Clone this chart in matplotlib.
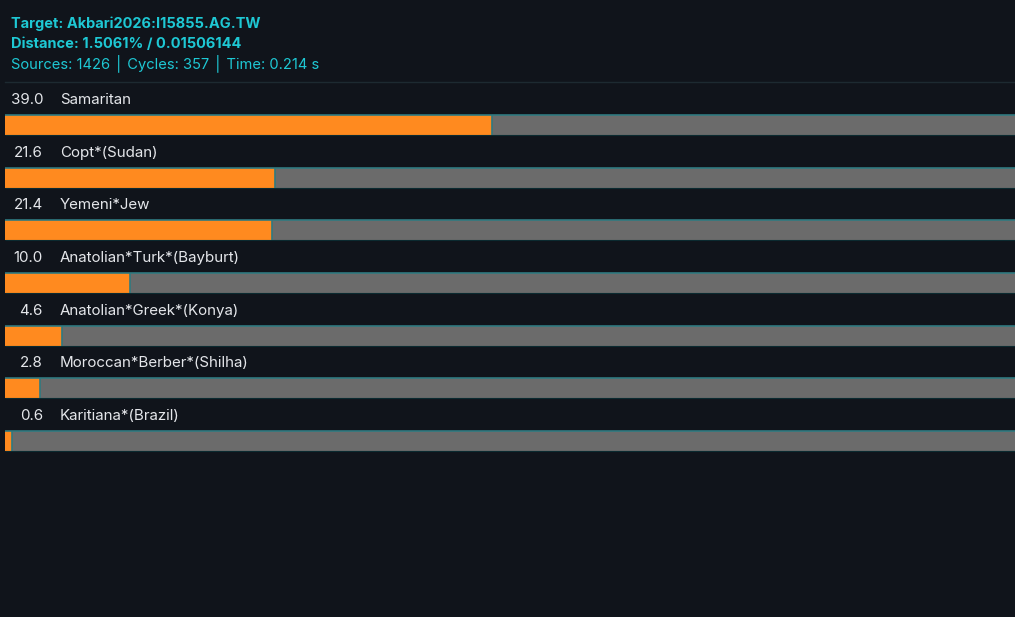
import matplotlib
matplotlib.use('Agg')
import matplotlib.pyplot as plt
import numpy as np

# データ
names = ['Samaritan', 'Copt*(Sudan)', 'Yemeni*Jew', 'Anatolian*Turk*(Bayburt)',
         'Anatolian*Greek*(Konya)', 'Moroccan*Berber*(Shilha)', 'Karitiana*(Brazil)']
values = [39.0, 21.6, 21.4, 10.0, 4.6, 2.8, 0.6]
header_target = 'Target: Akbari2026:I15855.AG.TW'
header_distance = 'Distance: 1.5061% / 0.01506144'
header_stats = 'Sources: 1426 │ Cycles: 357 │ Time: 0.214 s'

plt.rcParams['font.family'] = ['Inter', 'DejaVu Sans']

bg = '#10141b'
orange = '#ff8a1f'
grey = '#6b6b6b'
teal = '#2f7a80'
cyan = '#1ec8d4'

W, H = 1015, 617
fig = plt.figure(figsize=(W / 100, H / 100), dpi=100)
fig.patch.set_facecolor(bg)
ax = fig.add_axes([0, 0, 1, 1])
ax.set_facecolor(bg)

# 座標の設定 (100% = 約1248px, 先頭バーの中心 y=125px, 行間 52.67px)
px_per_pct = 12.49
x0 = 5
pitch = 52.67
y0 = 125
ax.set_xlim(-x0 / px_per_pct, (W - x0) / px_per_pct)
ax.set_ylim((H - y0) / pitch, -y0 / pitch)
ax.axis('off')

y = np.arange(len(names))
bar_h = 20 / pitch

# 背景バー
ax.barh(y, 100, height=bar_h, color=grey, edgecolor='none', zorder=1)
ax.hlines(y - bar_h / 2, 0, 100, color=teal, lw=1.2, zorder=3)
ax.hlines(y + bar_h / 2, 0, 100, color='#0b2a30', lw=0.8, zorder=3)
# 値バー
ax.barh(y, values, height=bar_h, color=orange, edgecolor='none', zorder=2)
ax.vlines(values, y - bar_h / 2, y + bar_h / 2, color=teal, lw=1.2, zorder=3)

# ラベル
for yi, v, n in zip(y, values, names):
    ax.text((43 - x0) / px_per_pct, yi - 25 / pitch, f'{v:.1f}', ha='right', va='center',
            color='#e4e6ea', fontsize=10.9)
    ax.text((60 - x0) / px_per_pct, yi - 25 / pitch, n, ha='left', va='center',
            color='#e4e6ea', fontsize=10.9)

# ヘッダー
fig.text(11 / W, 1 - 24 / H, header_target, color=cyan, fontsize=10.5,
         fontweight='bold', va='center', ha='left')
fig.text(11 / W, 1 - 44 / H, header_distance, color=cyan, fontsize=10.5,
         fontweight='bold', va='center', ha='left')
fig.text(11 / W, 1 - 63 / H, header_stats, color=cyan, fontsize=10.6,
         va='center', ha='left')
fig.add_artist(plt.Line2D([5 / W, 1], [1 - 81.5 / H] * 2, color='#1d2a31', lw=1))

fig.savefig('out.png', dpi=100, facecolor=bg)
